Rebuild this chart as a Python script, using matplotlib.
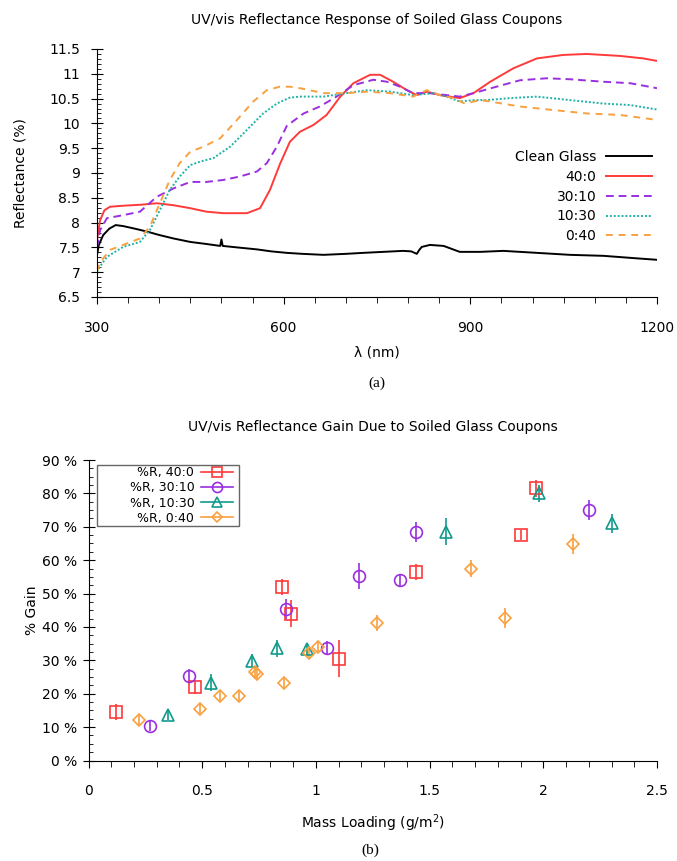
import matplotlib
matplotlib.use("Agg")
import matplotlib.pyplot as plt
from matplotlib.lines import Line2D
from matplotlib.patches import Rectangle
from matplotlib.ticker import MultipleLocator, FuncFormatter

plt.rcParams['font.family'] = ['DejaVu Sans']

# ---------------- (a) spectra ----------------
wl_clean = [300, 303, 310, 320, 330, 342, 360, 380, 400, 423, 450, 475, 498, 500, 502, 525, 557, 580, 605, 630,
            664, 700, 728, 760, 792, 805, 814, 818, 822, 835, 857, 883, 916, 953, 1007, 1060, 1114, 1167, 1200]
r_clean = [7.35, 7.55, 7.75, 7.88, 7.95, 7.93, 7.88, 7.82, 7.75, 7.68, 7.61, 7.57, 7.53, 7.66, 7.53, 7.50, 7.46,
           7.42, 7.39, 7.37, 7.35, 7.37, 7.39, 7.41, 7.43, 7.42, 7.37, 7.45, 7.51, 7.55, 7.53, 7.41, 7.41, 7.43,
           7.39, 7.35, 7.33, 7.28, 7.25]

wl_40_0 = [300, 305, 312, 321, 342, 370, 396, 423, 450, 476, 503, 541, 562, 578, 594, 610, 626, 648, 669, 691,
           712, 739, 755, 776, 798, 814, 830, 851, 883, 905, 932, 969, 1007, 1049, 1087, 1141, 1178, 1200]
r_40_0 = [7.65, 8.05, 8.25, 8.32, 8.34, 8.36, 8.39, 8.35, 8.29, 8.22, 8.19, 8.19, 8.29, 8.66, 9.18, 9.63, 9.83,
          9.97, 10.17, 10.54, 10.81, 10.98, 10.98, 10.84, 10.67, 10.57, 10.64, 10.57, 10.51, 10.61, 10.84, 11.11,
          11.31, 11.38, 11.40, 11.36, 11.31, 11.26]

wl_30_10 = [300, 305, 316, 342, 369, 396, 423, 450, 476, 503, 530, 557, 573, 589, 605, 632, 658, 685, 712, 744,
            766, 787, 808, 835, 862, 883, 905, 942, 980, 1023, 1060, 1114, 1157, 1200]
r_30_10 = [7.50, 7.85, 8.09, 8.15, 8.22, 8.52, 8.69, 8.82, 8.82, 8.86, 8.93, 9.03, 9.20, 9.53, 9.95, 10.20, 10.34,
           10.54, 10.77, 10.88, 10.84, 10.74, 10.61, 10.61, 10.57, 10.54, 10.61, 10.74, 10.87, 10.91, 10.89, 10.84,
           10.81, 10.71]

wl_10_30 = [300, 305, 316, 342, 369, 385, 401, 417, 433, 450, 466, 487, 514, 541, 567, 589, 610, 626, 664, 701,
            734, 771, 808, 841, 862, 883, 905, 926, 964, 1007, 1060, 1114, 1157, 1200]
r_10_30 = [7.00, 7.12, 7.31, 7.51, 7.61, 7.85, 8.25, 8.66, 8.93, 9.16, 9.23, 9.30, 9.53, 9.87, 10.20, 10.40, 10.52,
           10.54, 10.54, 10.61, 10.67, 10.64, 10.57, 10.61, 10.54, 10.44, 10.47, 10.47, 10.51, 10.54, 10.47, 10.40,
           10.37, 10.28]

wl_0_40 = [300, 305, 321, 342, 369, 385, 401, 417, 433, 450, 471, 498, 525, 551, 573, 594, 610, 626, 664, 701,
           734, 771, 808, 830, 851, 873, 891, 916, 932, 980, 1033, 1087, 1141, 1200]
r_0_40 = [7.02, 7.20, 7.45, 7.55, 7.68, 7.92, 8.39, 8.86, 9.20, 9.43, 9.53, 9.70, 10.07, 10.44, 10.67, 10.74, 10.74,
          10.71, 10.61, 10.61, 10.64, 10.61, 10.54, 10.67, 10.57, 10.51, 10.40, 10.47, 10.44, 10.34, 10.27, 10.20,
          10.17, 10.07]

spec_labels = ["Clean Glass", "40:0", "30:10", "10:30", "0:40"]
wl_ticks = [300, 600, 900, 1200]

# ---------------- (b) gain scatter ----------------
x_40_0 = [0.12, 0.47, 0.85, 0.89, 1.10, 1.44, 1.90, 1.97]
g_40_0 = [14.5, 22.0, 52.0, 44.0, 30.5, 56.5, 67.5, 81.5]
e_40_0 = [2.5, 2.0, 2.5, 4.0, 5.5, 2.5, 1.5, 2.5]

x_30_10 = [0.27, 0.44, 0.87, 1.05, 1.19, 1.37, 1.44, 2.20]
g_30_10 = [10.3, 25.3, 45.5, 33.8, 55.3, 54.0, 68.5, 75.0]
e_30_10 = [1.5, 2.0, 3.0, 2.0, 4.0, 2.0, 3.0, 3.0]

x_10_30 = [0.35, 0.54, 0.72, 0.83, 0.96, 1.57, 1.98, 2.30]
g_10_30 = [13.6, 23.3, 29.9, 33.6, 33.3, 68.5, 80.0, 71.0]
e_10_30 = [1.5, 2.5, 2.0, 2.5, 2.0, 4.0, 2.5, 2.8]

x_0_40 = [0.22, 0.49, 0.58, 0.66, 0.73, 0.74, 0.86, 0.97, 1.01, 1.27, 1.68, 1.83, 2.13]
g_0_40 = [12.1, 15.3, 19.4, 19.4, 26.6, 25.9, 23.3, 32.3, 34.1, 41.2, 57.5, 42.8, 64.8]
e_0_40 = [1.5, 1.5, 1.5, 1.5, 1.5, 1.5, 1.5, 2.0, 1.5, 2.5, 2.5, 3.0, 3.0]

gain_labels = ["%R, 40:0", "%R, 30:10", "%R, 10:30", "%R, 0:40"]

RED = "#ff3a3a"
PURPLE = "#9a2fe0"
TEAL = "#129a8c"
TEAL_L = "#1fb3a8"
ORANGE = "#f9a03f"

W, H = 677, 861
fig = plt.figure(figsize=(W / 100, H / 100), dpi=100)

def fx(px):
    return px / W

def fy(py):
    return 1 - py / H

# ---- top axes ----
ax1 = fig.add_axes([fx(97), fy(297), fx(657) - fx(97), fy(49) - fy(297)])
lw = 1.4
ax1.plot(wl_clean, r_clean, color="black", lw=lw, label=spec_labels[0])
ax1.plot(wl_40_0, r_40_0, color=RED, lw=lw, label=spec_labels[1])
ax1.plot(wl_30_10, r_30_10, color=PURPLE, lw=lw, dashes=(4, 2.5), label=spec_labels[2])
ax1.plot(wl_10_30, r_10_30, color=TEAL_L, lw=lw, dashes=(1, 1), label=spec_labels[3])
ax1.plot(wl_0_40, r_0_40, color=ORANGE, lw=lw, dashes=(3.5, 3), label=spec_labels[4])
ax1.set_xlim(300, 1200)
ax1.set_ylim(6.5, 11.5)
ax1.set_xticks(wl_ticks)
ax1.xaxis.set_minor_locator(MultipleLocator(50))
ax1.yaxis.set_major_locator(MultipleLocator(0.5))
ax1.yaxis.set_minor_locator(MultipleLocator(0.1))
ax1.yaxis.set_major_formatter(FuncFormatter(lambda v, p: f"{v:g}"))
ax1.spines['top'].set_visible(False)
ax1.spines['right'].set_visible(False)
ax1.tick_params(axis='x', which='major', direction='out', length=5, pad=12, labelsize=10)
ax1.tick_params(axis='x', which='minor', direction='out', length=4)
ax1.tick_params(axis='y', which='major', direction='inout', length=8, pad=8, labelsize=10)
ax1.tick_params(axis='y', which='minor', direction='in', length=3)
ax1.set_xlabel("λ (nm)", fontsize=10, labelpad=8)
ax1.set_ylabel("Reflectance (%)", fontsize=10, labelpad=16)
ax1.set_title("UV/vis Reflectance Response of Soiled Glass Coupons", fontsize=10, pad=18)
leg1 = ax1.legend(loc="upper right", bbox_to_anchor=(fx(652), fy(150)), bbox_transform=fig.transFigure,
                  frameon=False, markerfirst=False, fontsize=10, handlelength=3.3, labelspacing=0.42,
                  handletextpad=0.7, borderaxespad=0, borderpad=0)
for t in leg1.get_texts():
    t.set_ha('right')
fig.text(fx(377), fy(383), "(a)", ha="center", va="center", fontsize=11, family="Liberation Serif")

# ---- bottom axes ----
ax2 = fig.add_axes([fx(88.5), fy(760.5), fx(657) - fx(88.5), fy(460) - fy(760.5)])
series = [
    (x_40_0, g_40_0, e_40_0, RED, 's', 8.0),
    (x_30_10, g_30_10, e_30_10, PURPLE, 'o', 8.5),
    (x_10_30, g_10_30, e_10_30, TEAL, '^', 8.5),
    (x_0_40, g_0_40, e_0_40, ORANGE, 'D', 5.8),
]
handles = []
for (xs, ys, es, c, m, ms), lab in zip(series, gain_labels):
    ax2.errorbar(xs, ys, yerr=es, fmt=m, color=c, mfc='none', mec=c, ms=ms, mew=1.2,
                 ecolor=c, elinewidth=1.2, capsize=0)
    handles.append(Line2D([0], [0], color=c, lw=1.2, marker=m, mfc='none', mec=c, ms=ms * 0.85, mew=1.2))
ax2.set_xlim(0, 2.5)
ax2.set_ylim(0, 90)
ax2.xaxis.set_major_locator(MultipleLocator(0.5))
ax2.xaxis.set_minor_locator(MultipleLocator(0.1))
ax2.yaxis.set_major_locator(MultipleLocator(10))
ax2.yaxis.set_minor_locator(MultipleLocator(2.5))
ax2.xaxis.set_major_formatter(FuncFormatter(lambda v, p: f"{v:g}"))
ax2.yaxis.set_major_formatter(FuncFormatter(lambda v, p: f"{v:g} %"))
ax2.spines['top'].set_visible(False)
ax2.spines['right'].set_visible(False)
ax2.tick_params(axis='x', which='major', direction='out', length=5, pad=12, labelsize=10)
ax2.tick_params(axis='x', which='minor', direction='out', length=4)
ax2.tick_params(axis='y', which='major', direction='inout', length=8, pad=4, labelsize=10)
ax2.tick_params(axis='y', which='minor', direction='in', length=3)
ax2.set_xlabel("Mass Loading (g/m$^2$)", fontsize=10, labelpad=10)
ax2.set_ylabel("% Gain", fontsize=10, labelpad=2)
ax2.set_title("UV/vis Reflectance Gain Due to Soiled Glass Coupons", fontsize=10, pad=21)
leg2 = ax2.legend(handles, gain_labels, loc="upper right", bbox_to_anchor=(fx(233), fy(466)),
                  bbox_transform=fig.transFigure, frameon=False, markerfirst=False,
                  fontsize=9, handlelength=2.6, labelspacing=0.18, handletextpad=0.5, borderpad=0,
                  borderaxespad=0)
for t in leg2.get_texts():
    t.set_ha('right')
fig.patches.append(Rectangle((fx(97), fy(526)), fx(239) - fx(97), fy(465) - fy(526), transform=fig.transFigure,
                             fill=False, edgecolor="#666666", linewidth=1.0, figure=fig))
fig.text(fx(370), fy(850), "(b)", ha="center", va="center", fontsize=11, family="Liberation Serif")

fig.savefig("out.png", dpi=100)
